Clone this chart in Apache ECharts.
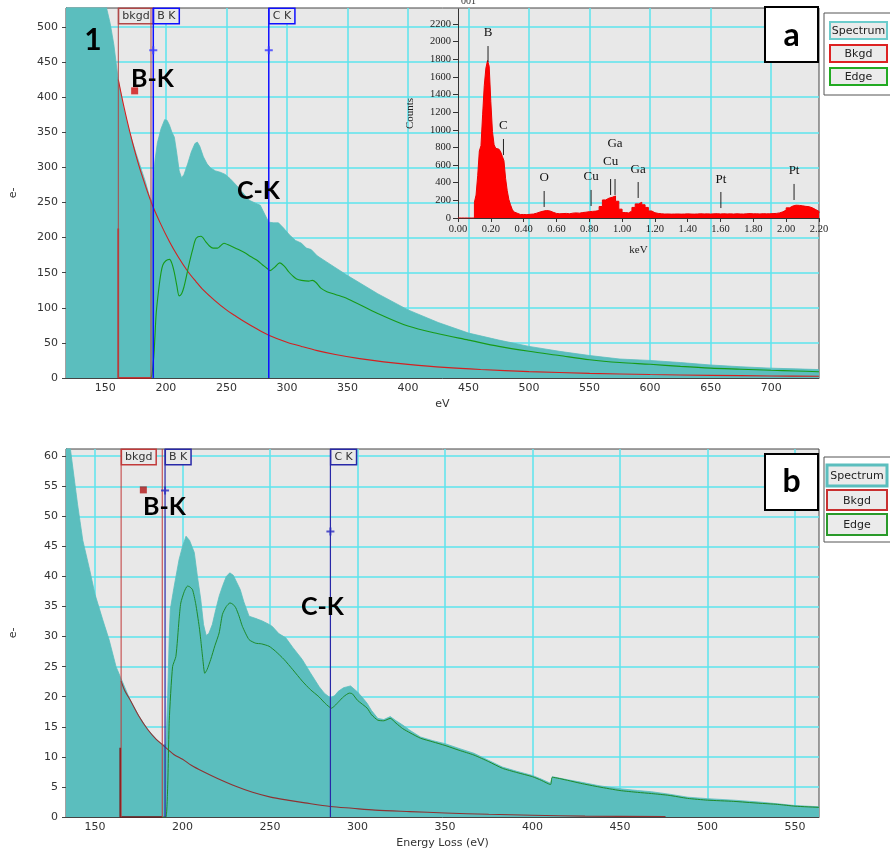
<!DOCTYPE html>
<html>
<head>
<meta charset="utf-8">
<script src="https://cdn.jsdelivr.net/npm/echarts@6/dist/echarts.min.js"></script>
<style>
  html, body { margin: 0; padding: 0; background: #ffffff; }
  #chart { width: 890px; height: 856px; }
</style>
</head>
<body>
<div id="chart"></div>
<script>
// ---------- Panel 1 (upper): EELS spectrum, energy loss in eV ----------
const topSpecE = [117.5,125,135,143,151,154,157,160.7,165,170,175,178.4,183,186.6,189,189.6,191,193,196,199,201,203,205,207,209,211,213,215,218,221,224,226,228,231,234,237,241,245,249,253,258,263,269,274,278,282,285,289,293,297,302,307,312,316,320,325,333,350,375,400,425,450,475,500,525,550,575,600,625,650,675,700,720,739.5];
const topSpecV = [1230,1000,760,640,527,505,475,424,385,350,322,304,280,258,250,282,310,335,355,368,367,360,350,343,320,295,285,290,305,322,334,336,330,315,305,299,295,293,290,284,275,265,253,249,246,232,222,221,221,214,204,196,192,185,183,174,165,146,120,97,79,64,54,45,38,32,27,25,22,18.5,16,14,13,12];

const topBkgdE = [160.7,165,170,175,180,188,195,203,210,218,225,230,240,250,257,265,275,285,300,312,325,340,360,380,400,430,460,500,550,600,650,700,739.5];
const topBkgdV = [425,389,352,319,290,250,222,194,173,152,137,127,111,97,89,80,70,61,51,45,39,33.5,27.6,23,19.4,15.1,12.1,9.1,6.6,5,3.8,2.9,2.4];

const topEdgeE = [187.7,188.5,190,191,192,194,196,197.5,200,203,205,207,209,211,213,215,217,219,222,225,229,233,236,239,242.6,245,248,251,255,260,265.6,270,275,280,283.6,286,290,294,298,301.6,305,308,312,318,321,324,328,333,340,350,375,400,425,450,475,500,525,550,575,600,625,650,675,700,720,739.5];
const topEdgeV = [0,5,30,60,92,125,150,161,167,169,163,150,132,117,120,130,145,161,182,199,202,194,188,185,185,188,192,190,187,183,178,173,168,161,156,153,158,164,159,151,145,141,139,138,139,136,128,123,119,113,92,74,63,54,45,38,32,26,22,19.5,16.5,14,12.5,11,10,9];

// residual inside the background-fit window
const topWindowE = [160.7,160.7,187.7];
const topWindowV = [213,0,0];

// window limits and edge onsets
const topMarkerE = [160.7,187.7,189.6,285];
const topMarkerLabel = ['bkgd','','B K','C K'];
const topPlusE = [189.6,285];
const topPlusV = [467,467];
const topFitPointE = [174.2];
const topFitPointV = [409];

const topXTicks = [150,200,250,300,350,400,450,500,550,600,650,700];
const topYTicks = [0,50,100,150,200,250,300,350,400,450,500];

// ---------- Panel 2 (lower): EELS spectrum, energy loss in eV ----------
const botSpecE = [133.4,136,140,143,147,150,154.4,158,162,164.9,170,175,180,185,188.6,190.5,191.5,192.4,193,195,198,200,202,204,206.7,208.5,210.4,212,213.5,215,217,219,221,223,225,227,229,231,233,235,238,242,245.6,249,251.3,255,259,263,268.4,273,278,281,284.5,287,289,292,296,300,303,305.5,308,311.6,315,318.7,322,325.8,330,336,343,350,358,366.5,375,382.8,391,400,405,410.3,411.3,420,427.5,438,450,460,468,478,488.6,500,515,529,540,550,563.7];
const botSpecV = [64,61,52,46,41,37,32.8,29.5,25,23,19.5,16.8,14.6,12.9,12,12,20,30,34.5,38,42.8,45,46.7,46,44,40,36.2,32,30.2,30.5,32,34.5,36.8,38.5,40,40.6,40.2,39,37.8,35.8,33.4,33,32.6,32.1,31.7,30.5,29.8,28.2,26.2,24,21.7,20.6,19.8,20.2,20.9,21.5,21.8,20.8,19.8,18.9,17.7,16.4,16.2,16.7,16,15.3,14.4,13.3,12.7,12.2,11.4,10.6,9.4,8.3,7.6,6.9,6.3,5.6,6.7,6.2,5.8,5.2,4.7,4.4,4.2,3.8,3.3,3.05,2.8,2.5,2.2,1.9,1.7];

const botBkgdE = [164.9,167,170,175,180,185,188.6,195,200,205,211.4,220,230.4,240,250.3,260,270,284.5,297,310,330,350,375,400,430,476];
const botBkgdV = [22.6,21,19.5,16.8,14.6,12.9,12,10.4,9.6,8.6,7.6,6.4,5.1,4.1,3.3,2.8,2.35,1.75,1.45,1.15,0.9,0.67,0.45,0.3,0.15,0.08];

const botEdgeE = [188.6,190.5,191.5,192.4,194.3,196.2,198,199,201,202.8,204,205.7,207.5,209.5,210.4,211.5,212.7,214,216.1,218.5,220.9,222.8,225,227.1,228.7,230.4,232.3,234.2,238,241.8,245,249.4,253,258,263,268.4,273,277.9,281.5,285.1,287,289.3,292,295.3,297,300,305.5,308,311.6,315,318.7,322,325.8,330,336,343,350,358,366.5,375,382.8,391,400,405,410.3,411.3,420,427.5,438,450,460,468,478,488.6,500,515,529,540,550,563.7];
const botEdgeV = [0,0,5,16,25,26.7,32.8,35.6,37.5,38.4,38.3,37.8,35.5,31.7,29.5,26.5,23.9,24.5,26.2,28.5,30.6,33.7,35,35.6,35.4,34.8,33.4,31.7,29.5,28.9,28.8,28.4,27.6,26.2,24.5,22.6,21.2,20,18.9,18.1,18.5,19.2,20,20.6,20.5,19.4,18.1,17,16.1,16,16.4,15.6,14.7,14,13.1,12.5,11.9,11.1,10.3,9.2,8.1,7.4,6.7,6.1,5.4,6.6,6.1,5.6,5,4.4,4.1,3.9,3.6,3.1,2.8,2.6,2.3,2.1,1.8,1.6];

const botWindowE = [164.4,164.4,188.4];
const botWindowV = [11.5,0,0];

const botMarkerE = [164.9,188.4,190,284.5];
const botMarkerLabel = ['bkgd','','B K','C K'];
const botPlusE = [190,284.5];
const botPlusV = [54.3,47.5];
const botFitPointE = [177.6];
const botFitPointV = [54.4];

const botXTicks = [150,200,250,300,350,400,450,500,550];
const botYTicks = [0,5,10,15,20,25,30,35,40,45,50,55,60];

// ---------- Inset: EDS spectrum, counts per channel vs keV ----------
const edsKeV = [0.00,0.01,0.02,0.03,0.04,0.05,0.06,0.07,0.08,0.09,0.10,0.11,0.12,0.13,0.14,0.15,0.16,0.17,0.18,0.19,0.20,0.21,0.22,0.23,0.24,0.25,0.26,0.27,0.28,0.29,0.30,0.31,0.32,0.33,0.34,0.35,0.36,0.37,0.38,0.39,0.40,
  0.42,0.44,0.46,0.48,0.50,0.52,0.54,0.56,0.58,0.60,0.62,0.64,0.66,0.68,0.70,0.72,0.74,0.76,0.78,0.80,0.82,0.84,0.86,0.88,0.90,0.92,0.94,0.96,0.98,1.00,
  1.02,1.04,1.06,1.08,1.10,1.12,1.14,1.16,1.18,1.20,1.22,1.24,1.26,1.28,1.30,1.32,1.34,1.36,1.38,1.40,1.42,1.44,1.46,1.48,1.50,1.52,1.54,1.56,1.58,1.60,
  1.62,1.64,1.66,1.68,1.70,1.72,1.74,1.76,1.78,1.80,1.82,1.84,1.86,1.88,1.90,1.92,1.94,1.96,1.98,2.00,2.02,2.04,2.06,2.08,2.10,2.12,2.14,2.16,2.18,2.20];
const edsCounts = [0,0,0,0,0,0,0,0,0,0,180,260,480,760,820,1170,1500,1700,1785,1720,1320,980,830,790,780,760,750,700,650,450,310,210,150,100,70,55,45,40,38,40,38,
  42,45,55,68,78,85,80,65,52,48,50,52,48,55,58,55,62,66,72,75,78,85,130,205,225,235,250,190,100,62,
  58,80,120,160,178,150,120,80,60,52,48,45,46,44,45,46,44,45,47,45,44,46,48,46,47,45,47,49,46,48,
  46,47,45,48,46,45,48,50,47,48,46,49,47,48,50,52,58,70,90,115,135,145,143,138,132,128,115,95,75,55];

const edsPeakKeV = [0.183,0.277,0.525,0.811,0.930,0.957,1.098,1.602,2.048];
const edsPeakName = ['B','C','O','Cu','Cu','Ga','Ga','Pt','Pt'];
const edsXTicks = [0,0.2,0.4,0.6,0.8,1.0,1.2,1.4,1.6,1.8,2.0,2.2];
const edsYTicks = [0,200,400,600,800,1000,1200,1400,1600,1800,2000,2200];

// ---------- drawing ----------
const SANS = '"DejaVu Sans", Verdana, sans-serif';
const SERIF = '"Liberation Serif", "Times New Roman", serif';
const BOLD = 'Lato, "Open Sans", sans-serif';
const GRID_CYAN = '#5ce4ee';
const TEAL = '#5bbebe';
const PLOT_BG = '#e8e8e8';

const zip = (xs, ys) => xs.map((x, i) => [x, ys[i]]);

// where each peak tick starts/ends and where its name sits, in counts
const peakTickTop = [1950, 896, 306, 318, 442, 442, 408, 295, 386];
const peakTickBottom = [1769, 714, 125, 136, 261, 261, 227, 113, 204];
const peakNameAt = [2098, 1043, 454, 465, 635, 839, 544, 431, 533];

function markerRenderer(labels, yMax, windowColor, edgeColor, edgeWidth) {
  return function (params, api) {
    const i = params.dataIndex;
    const e = api.value(0);
    const top = api.coord([e, yMax]);
    const bot = api.coord([e, 0]);
    const isWindow = labels[i] === 'bkgd' || labels[i] === '';
    const color = isWindow ? windowColor : edgeColor;
    const children = [{
      type: 'line',
      shape: { x1: top[0], y1: top[1], x2: bot[0], y2: bot[1] },
      style: { stroke: color, lineWidth: isWindow ? 1 : edgeWidth }
    }];
    if (labels[i]) {
      children.push({
        type: 'text',
        style: {
          x: top[0] + 1, y: top[1] + 1,
          text: labels[i], fill: '#333', font: '11px ' + SANS,
          align: 'left', verticalAlign: 'top',
          backgroundColor: PLOT_BG, borderColor: color, borderWidth: 1.5,
          padding: [2, 3, 1, 3]
        }
      });
    }
    return { type: 'group', children };
  };
}

function peakRenderer(params, api) {
  const i = params.dataIndex;
  const e = api.value(0);
  const a = api.coord([e, peakTickTop[i]]);
  const b = api.coord([e, peakTickBottom[i]]);
  const t = api.coord([e, peakNameAt[i]]);
  return {
    type: 'group',
    children: [
      { type: 'line', shape: { x1: a[0], y1: a[1], x2: b[0], y2: b[1] }, style: { stroke: '#222', lineWidth: 1 } },
      { type: 'text', style: { x: t[0], y: t[1], text: edsPeakName[i], fill: '#111', font: '13px ' + SERIF, align: 'center', verticalAlign: 'middle' } }
    ]
  };
}

const plusPath = 'path://M3,0h2v3h3v2h-3v3h-2v-3h-3v-2h3z';

function mainX(grid, min, max, ticks, name) {
  return {
    gridIndex: grid, type: 'value', min, max,
    axisLine: { show: true, onZero: false, lineStyle: { color: '#444', width: 1 } },
    axisTick: { show: false, customValues: ticks },
    axisLabel: { customValues: ticks, color: '#333', fontFamily: SANS, fontSize: 11, margin: 5 },
    splitLine: { show: true, lineStyle: { color: GRID_CYAN, width: 1.5 } },
    name, nameLocation: 'middle', nameGap: 21,
    nameTextStyle: { color: '#333', fontFamily: SANS, fontSize: 11 }
  };
}
function mainY(grid, max, ticks) {
  return {
    gridIndex: grid, type: 'value', min: 0, max,
    axisLine: { show: true, lineStyle: { color: '#444', width: 1 } },
    axisTick: { show: true, length: 4, customValues: ticks, lineStyle: { color: '#444' } },
    axisLabel: { customValues: ticks, color: '#333', fontFamily: SANS, fontSize: 11, margin: 8 },
    splitLine: { show: true, lineStyle: { color: GRID_CYAN, width: 1.5 } },
    name: 'e-', nameLocation: 'middle', nameRotate: 90, nameGap: 47,
    nameTextStyle: { color: '#333', fontFamily: SANS, fontSize: 11 }
  };
}

function legendBox(x, y, h, items) {
  const out = [{ type: 'rect', shape: { x: x, y: y, width: 72, height: h }, style: { fill: '#ffffff', stroke: '#555', lineWidth: 1 } }];
  items.forEach(it => {
    out.push({ type: 'rect', shape: { x: it.x, y: it.y, width: it.w, height: it.h }, style: { fill: '#ebebeb', stroke: it.color, lineWidth: it.lw } });
    out.push({ type: 'text', style: { x: it.x + it.w / 2, y: it.y + it.h / 2 + 1, text: it.text, fill: '#222', font: '11px ' + SANS, align: 'center', verticalAlign: 'middle' } });
  });
  return out;
}

const graphics = [].concat(
  legendBox(824, 13, 82, [
    { text: 'Spectrum', x: 830, y: 22, w: 57, h: 17, color: '#6ccccc', lw: 2 },
    { text: 'Bkgd', x: 830, y: 45, w: 57, h: 17, color: '#dd2222', lw: 2 },
    { text: 'Edge', x: 830, y: 68, w: 57, h: 17, color: '#22aa22', lw: 2 }
  ]),
  legendBox(824, 457, 85, [
    { text: 'Spectrum', x: 827, y: 465, w: 60, h: 21, color: '#5bbebe', lw: 3 },
    { text: 'Bkgd', x: 827, y: 490, w: 60, h: 20, color: '#c83030', lw: 2 },
    { text: 'Edge', x: 827, y: 514, w: 60, h: 21, color: '#2a9a2a', lw: 2 }
  ]),
  [
    { type: 'rect', shape: { x: 765, y: 7, width: 53, height: 55 }, style: { fill: '#fff', stroke: '#000', lineWidth: 2 }, z: 20 },
    { type: 'text', style: { x: 791.5, y: 36, text: 'a', font: 'bold 32px ' + BOLD, fill: '#000', align: 'center', verticalAlign: 'middle' }, z: 21 },
    { type: 'rect', shape: { x: 765, y: 454, width: 53, height: 56 }, style: { fill: '#fff', stroke: '#000', lineWidth: 2 }, z: 20 },
    { type: 'text', style: { x: 791.5, y: 482, text: 'b', font: 'bold 32px ' + BOLD, fill: '#000', align: 'center', verticalAlign: 'middle' }, z: 21 },
    { type: 'text', style: { x: 93, y: 40, text: '1', font: 'bold 30px ' + BOLD, fill: '#000', align: 'center', verticalAlign: 'middle' }, z: 21 },
    { type: 'text', style: { x: 131, y: 79, text: 'B-K', font: 'bold 25px ' + BOLD, fill: '#000', align: 'left', verticalAlign: 'middle' }, z: 21 },
    { type: 'text', style: { x: 237, y: 191, text: 'C-K', font: 'bold 25px ' + BOLD, fill: '#000', align: 'left', verticalAlign: 'middle' }, z: 21 },
    { type: 'text', style: { x: 143, y: 507, text: 'B-K', font: 'bold 25px ' + BOLD, fill: '#000', align: 'left', verticalAlign: 'middle' }, z: 21 },
    { type: 'text', style: { x: 301, y: 607, text: 'C-K', font: 'bold 25px ' + BOLD, fill: '#000', align: 'left', verticalAlign: 'middle' }, z: 21 },
    { type: 'text', style: { x: 461, y: -4, text: '001', font: '10px ' + SERIF, fill: '#333', align: 'left', verticalAlign: 'top' }, z: 21 }
  ]
);

const option = {
  animation: false,
  backgroundColor: '#ffffff',
  grid: [
    { left: 63, top: 8, width: 756, height: 370, show: true, backgroundColor: PLOT_BG, borderColor: '#444', borderWidth: 1 },
    { left: 63, top: 449, width: 756, height: 368, show: true, backgroundColor: PLOT_BG, borderColor: '#444', borderWidth: 1 },
    { left: 458, top: 9, width: 361, height: 209, show: false }
  ],
  xAxis: [
    mainX(0, 117.5, 739.5, topXTicks, 'eV'),
    mainX(1, 133.4, 563.7, botXTicks, 'Energy Loss (eV)'),
    {
      gridIndex: 2, type: 'value', min: 0, max: 2.2,
      axisLine: { show: true, onZero: false, lineStyle: { color: '#333', width: 1 } },
      axisTick: { show: true, length: 4, customValues: edsXTicks, lineStyle: { color: '#333' } },
      axisLabel: { customValues: edsXTicks, formatter: v => v.toFixed(2), color: '#222', fontFamily: SERIF, fontSize: 10.5, margin: 6 },
      splitLine: { show: false },
      name: 'keV', nameLocation: 'middle', nameGap: 27,
      nameTextStyle: { color: '#222', fontFamily: SERIF, fontSize: 11 }
    }
  ],
  yAxis: [
    mainY(0, 527, topYTicks),
    mainY(1, 61.2, botYTicks),
    {
      gridIndex: 2, type: 'value', min: 0, max: 2370,
      axisLine: { show: true, lineStyle: { color: '#333', width: 1 } },
      axisTick: { show: true, length: 5, customValues: edsYTicks, lineStyle: { color: '#333' } },
      axisLabel: { customValues: edsYTicks, formatter: v => String(v), color: '#222', fontFamily: SERIF, fontSize: 10.5, margin: 7 },
      splitLine: { show: false },
      name: 'Counts', nameLocation: 'middle', nameRotate: 90, nameGap: 42,
      nameTextStyle: { color: '#222', fontFamily: SERIF, fontSize: 11 }
    }
  ],
  series: [
    // upper panel
    { type: 'line', xAxisIndex: 0, yAxisIndex: 0, data: zip(topSpecE, topSpecV), showSymbol: false,
      lineStyle: { color: TEAL, width: 0.8 }, areaStyle: { color: TEAL, opacity: 1 }, z: 2 },
    { type: 'line', xAxisIndex: 0, yAxisIndex: 0, data: zip(topBkgdE, topBkgdV), showSymbol: false, smooth: 0.3,
      lineStyle: { color: '#d42020', width: 1.1 }, z: 3 },
    { type: 'line', xAxisIndex: 0, yAxisIndex: 0, data: zip(topEdgeE, topEdgeV), showSymbol: false, smooth: 0.3,
      lineStyle: { color: '#189a18', width: 1.1 }, z: 3 },
    { type: 'line', xAxisIndex: 0, yAxisIndex: 0, data: zip(topWindowE, topWindowV), showSymbol: false,
      lineStyle: { color: '#dd1010', width: 1.6 }, z: 4 },
    { type: 'custom', xAxisIndex: 0, yAxisIndex: 0, data: topMarkerE.map(e => [e, 0]), encode: { x: 0, y: 1 },
      renderItem: markerRenderer(topMarkerLabel, 527, '#b04848', '#1010ff', 1.5), z: 5 },
    { type: 'scatter', xAxisIndex: 0, yAxisIndex: 0, data: zip(topFitPointE, topFitPointV), symbol: 'rect', symbolSize: 7,
      itemStyle: { color: '#d01010' }, z: 6 },
    { type: 'scatter', xAxisIndex: 0, yAxisIndex: 0, data: zip(topPlusE, topPlusV), symbol: plusPath, symbolSize: 8,
      itemStyle: { color: '#3a3aff' }, z: 6 },

    // lower panel
    { type: 'line', xAxisIndex: 1, yAxisIndex: 1, data: zip(botSpecE, botSpecV), showSymbol: false,
      lineStyle: { color: TEAL, width: 0.8 }, areaStyle: { color: TEAL, opacity: 1 }, z: 2 },
    { type: 'line', xAxisIndex: 1, yAxisIndex: 1, data: zip(botBkgdE, botBkgdV), showSymbol: false, smooth: 0.3,
      lineStyle: { color: '#8e3232', width: 1.1 }, z: 3 },
    { type: 'line', xAxisIndex: 1, yAxisIndex: 1, data: zip(botEdgeE, botEdgeV), showSymbol: false, smooth: 0.2,
      lineStyle: { color: '#1f8a2a', width: 1 }, z: 3 },
    { type: 'line', xAxisIndex: 1, yAxisIndex: 1, data: zip(botWindowE, botWindowV), showSymbol: false,
      lineStyle: { color: '#6e1414', width: 1.6 }, z: 4 },
    { type: 'custom', xAxisIndex: 1, yAxisIndex: 1, data: botMarkerE.map(e => [e, 0]), encode: { x: 0, y: 1 },
      renderItem: markerRenderer(botMarkerLabel, 61.2, '#c23a3a', '#2828a8', 1.2), z: 5 },
    { type: 'scatter', xAxisIndex: 1, yAxisIndex: 1, data: zip(botFitPointE, botFitPointV), symbol: 'rect', symbolSize: 7,
      itemStyle: { color: '#b01414' }, z: 6 },
    { type: 'scatter', xAxisIndex: 1, yAxisIndex: 1, data: zip(botPlusE, botPlusV), symbol: plusPath, symbolSize: 8,
      itemStyle: { color: '#2a2ac0' }, z: 6 },

    // inset EDS spectrum
    { type: 'line', xAxisIndex: 2, yAxisIndex: 2, data: zip(edsKeV, edsCounts), step: 'end', showSymbol: false,
      lineStyle: { color: '#ee0000', width: 1 }, areaStyle: { color: '#ff0000', opacity: 1 }, z: 7 },
    { type: 'custom', xAxisIndex: 2, yAxisIndex: 2, data: edsPeakKeV.map(e => [e, 0]), encode: { x: 0, y: 1 },
      renderItem: peakRenderer, z: 8 }
  ],
  graphic: graphics
};

const chart = echarts.init(document.getElementById('chart'));
chart.setOption(option);
</script>
</body>
</html>
